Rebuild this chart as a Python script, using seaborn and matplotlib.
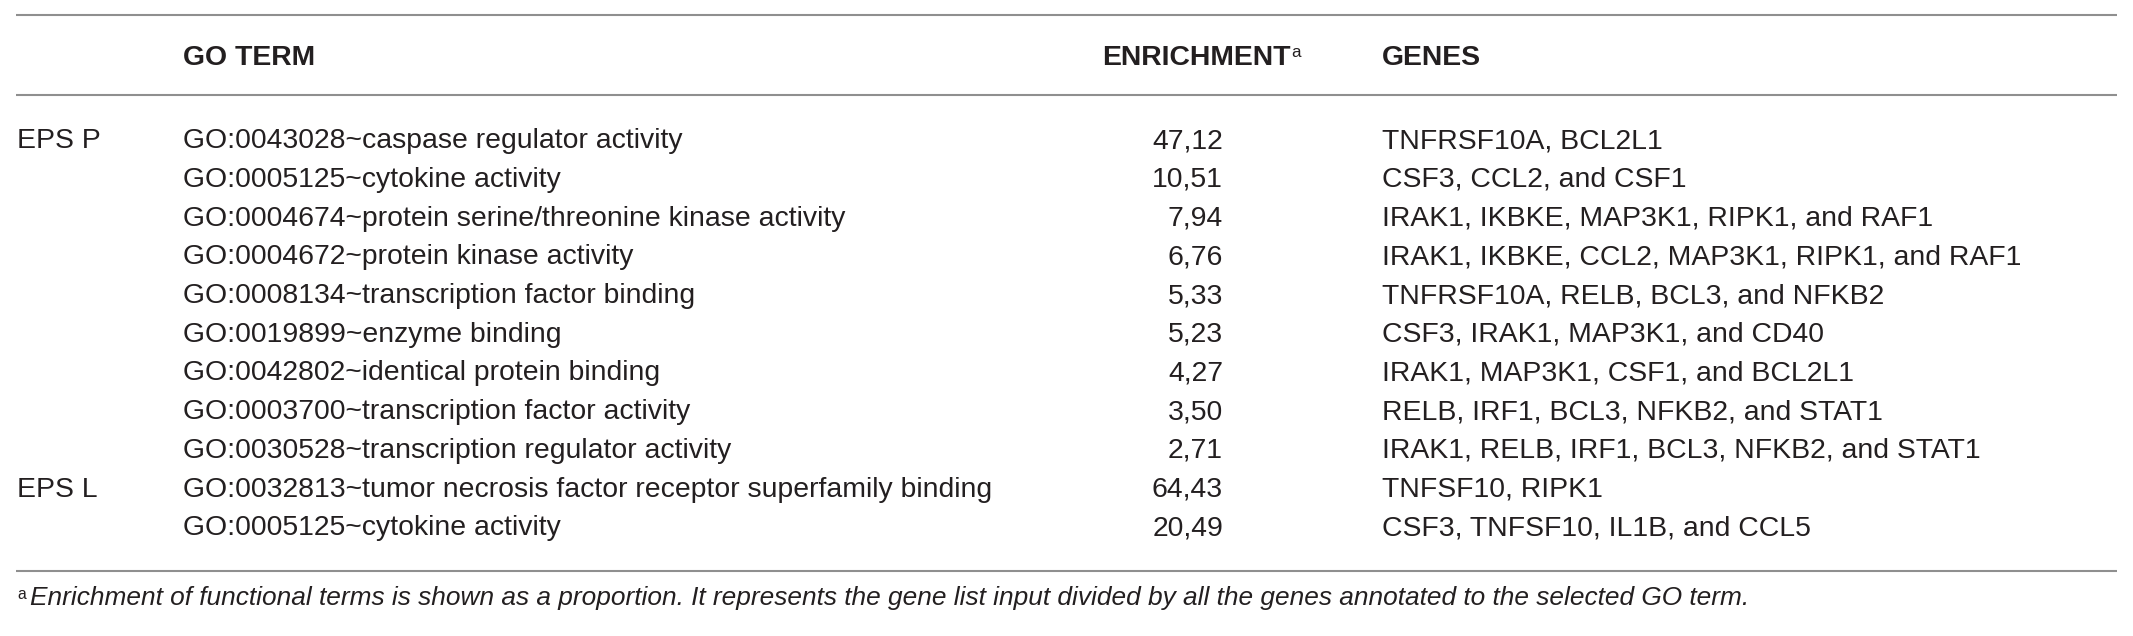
import matplotlib
matplotlib.use("Agg")
import matplotlib.pyplot as plt
import seaborn as sns

# table content
group_names = ["EPS P", "EPS L"]
group_sizes = [9, 2]

go_terms = [
    "GO:0043028~caspase regulator activity",
    "GO:0005125~cytokine activity",
    "GO:0004674~protein serine/threonine kinase activity",
    "GO:0004672~protein kinase activity",
    "GO:0008134~transcription factor binding",
    "GO:0019899~enzyme binding",
    "GO:0042802~identical protein binding",
    "GO:0003700~transcription factor activity",
    "GO:0030528~transcription regulator activity",
    "GO:0032813~tumor necrosis factor receptor superfamily binding",
    "GO:0005125~cytokine activity",
]
enrichment = [47.12, 10.51, 7.94, 6.76, 5.33, 5.23, 4.27, 3.50, 2.71, 64.43, 20.49]
genes = [
    "TNFRSF10A, BCL2L1",
    "CSF3, CCL2, and CSF1",
    "IRAK1, IKBKE, MAP3K1, RIPK1, and RAF1",
    "IRAK1, IKBKE, CCL2, MAP3K1, RIPK1, and RAF1",
    "TNFRSF10A, RELB, BCL3, and NFKB2",
    "CSF3, IRAK1, MAP3K1, and CD40",
    "IRAK1, MAP3K1, CSF1, and BCL2L1",
    "RELB, IRF1, BCL3, NFKB2, and STAT1",
    "IRAK1, RELB, IRF1, BCL3, NFKB2, and STAT1",
    "TNFSF10, RIPK1",
    "CSF3, TNFSF10, IL1B, and CCL5",
]
headers = ["GO TERM", "ENRICHMENT", "GENES"]
footnote = ("Enrichment of functional terms is shown as a proportion. It represents the gene list "
            "input divided by all the genes annotated to the selected GO term.")

sns.set_theme(style="white")
plt.rcParams["font.family"] = ["Liberation Sans", "DejaVu Sans"]

W, H = 2133, 636
fig = plt.figure(figsize=(W / 100, H / 100), dpi=100)
ax = fig.add_axes([0, 0, 1, 1])
ax.set_xlim(0, W)
ax.set_ylim(H, 0)
ax.axis("off")

txt = "#231f20"
rule = "#8f8f8f"
renderer = fig.canvas.get_renderer()


def fit_size(s, width, **kw):
    t = ax.text(0, 0, s, fontsize=20, **kw)
    w = t.get_window_extent(renderer).width
    t.remove()
    return 20 * width / w


def right_edge(t):
    bb = t.get_window_extent(renderer)
    return ax.transData.inverted().transform((bb.x1, bb.y1))[0]


fs = fit_size(max(go_terms, key=len), 990 - 183)
fs_note = fit_size(footnote, 1745 - 30, style="italic")
cap = 0.72 * fs * 100 / 72  # cap height in pixels

x_group, x_term, x_enr, x_genes, x_enr_head = 17, 183, 1223, 1382, 1102
row0, pitch = 138, 38.7

# rules
for y in [15, 95, 571]:
    ax.plot([16, 2117], [y, y], color=rule, lw=1.5, solid_capstyle="butt")

# header
hy = 55 + cap / 2
ax.text(x_term, hy, headers[0], fontsize=fs, fontweight="bold", color=txt, va="baseline")
th = ax.text(x_enr_head, hy, headers[1], fontsize=fs, fontweight="bold", color=txt, va="baseline")
ax.text(right_edge(th) + 1, hy - cap, "a", fontsize=fs * 0.6, color=txt, va="top")
ax.text(x_genes, hy, headers[2], fontsize=fs, fontweight="bold", color=txt, va="baseline")

# body rows
starts = [0]
for n in group_sizes[:-1]:
    starts.append(starts[-1] + n)
for name, s in zip(group_names, starts):
    ax.text(x_group, row0 + s * pitch + cap / 2, name, fontsize=fs, color=txt, va="baseline")

for i, (term, val, g) in enumerate(zip(go_terms, enrichment, genes)):
    y = row0 + i * pitch + cap / 2
    ax.text(x_term, y, term, fontsize=fs, color=txt, va="baseline")
    ax.text(x_enr, y, f"{val:.2f}".replace(".", ","), fontsize=fs, color=txt,
            va="baseline", ha="right")
    ax.text(x_genes, y, g, fontsize=fs, color=txt, va="baseline")

# footnote
cap_n = 0.72 * fs_note * 100 / 72
ny = 596 + cap_n / 2
ax.text(17, ny - cap_n, "a", fontsize=fs_note * 0.6, color=txt, va="top")
ax.text(30, ny, footnote, fontsize=fs_note, style="italic", color=txt, va="baseline")

fig.savefig("out.png", dpi=100, facecolor="white")
